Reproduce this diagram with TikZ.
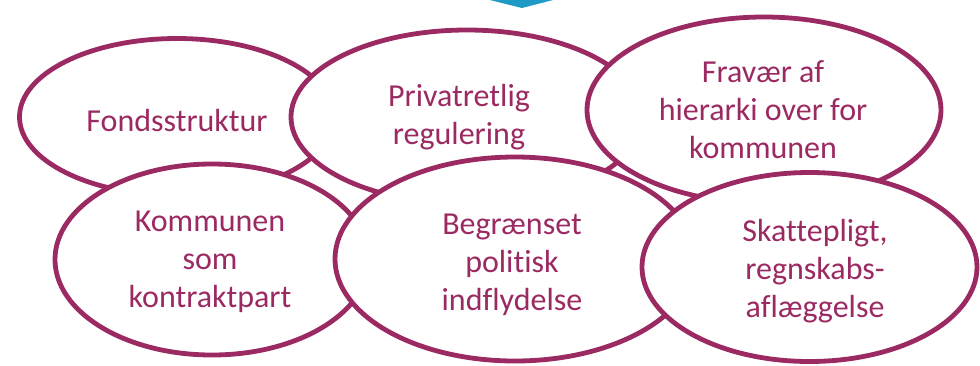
\documentclass[tikz,border=0pt]{standalone}
\usepackage{fontspec}
\setmainfont[Ligatures=NoCommon]{Carlito}
\usetikzlibrary{shapes.geometric}
\definecolor{plum}{RGB}{156,42,98}
\definecolor{tealx}{RGB}{30,154,198}
\begin{document}
\begin{tikzpicture}[x=1pt,y=-1pt,
  bub/.style={ellipse, draw=plum, line width=4.8pt, fill=white, inner sep=0pt},
  txt/.style={text=plum, font=\fontsize{32}{38}\selectfont, align=center, anchor=base, inner sep=0pt}]
\useasboundingbox[fill=white] (0,0) rectangle (980,365);
\fill[tealx] (490,0) -- (553,0) -- (522,8) -- cycle;
\node[bub, minimum width=315pt, minimum height=157pt] (fonds) at (177,117) {};
\node[bub, minimum width=352pt, minimum height=174pt] (privat) at (467,117) {};
\node[bub, minimum width=354pt, minimum height=186pt] (frav) at (764,110) {};
\node[bub, minimum width=314pt, minimum height=191pt] (komm) at (212,259.5) {};
\node[bub, minimum width=360pt, minimum height=204pt] (begr) at (515,259) {};
\node[bub, minimum width=335pt, minimum height=189pt] (skat) at (809.5,267) {};
\node[txt] (tfonds) at (177,131) {Fondsstruktur};
\node[txt] (tprivat) at (459,144) {Privatretlig\\regulering};
\node[txt] (tfrav) at (763,158) {Fravær af\\hierarki over for\\kommunen};
\node[txt] (tkomm) at (210,307) {Kommunen\\som\\kontraktpart};
\node[txt] (tbegr) at (512,310) {Begrænset\\politisk\\indflydelse};
\node[txt] (tskat) at (815,317) {Skattepligt,\\regnskabs-\\aflæggelse};
\end{tikzpicture}
\end{document}
